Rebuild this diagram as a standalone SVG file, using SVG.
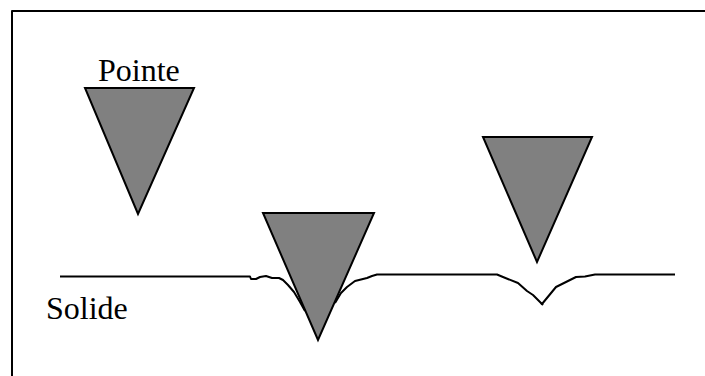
<svg xmlns="http://www.w3.org/2000/svg" width="705" height="376" viewBox="0 0 705 376">
<style>
.line{fill:none;stroke:#000;stroke-width:2;stroke-linejoin:round}
.tip{fill:#808080;stroke:#000;stroke-width:2;stroke-linejoin:miter}
.label{font-family:"Liberation Serif","Times New Roman",serif;font-size:32px;fill:#000}
</style>
<rect width="705" height="376" fill="#fff"/>
<g id="frame"><path class="line" d="M12 376V11H705"/></g>
<g id="tip1"><polygon class="tip" points="85,88 194,88 138,214"/></g>
<g id="tip2"><polygon class="tip" points="263,213 374,213 318,340"/></g>
<g id="tip3"><polygon class="tip" points="483,137 592,137 537,262"/></g>
<g id="connectors">
<path class="line" d="M60 276.500H250L251 279H256L260 277L266 276L272 278H279L283 280L288 285L294 292L300 302L305 311"/>
<path class="line" d="M335 303L341 293L347 287L355 281L367 278L372 276L377 274.500H497L503 277L518 283L527 291L533 295L542 304L556 287L576 277L585 276.500L595 274.500H675"/>
<path class="line" d="M541 303L543 305"/>
</g>
<g id="label-pointe"><text class="label" x="98" y="81">Pointe</text></g>
<g id="label-solide"><text class="label" x="46" y="319">Solide</text></g>
</svg>
